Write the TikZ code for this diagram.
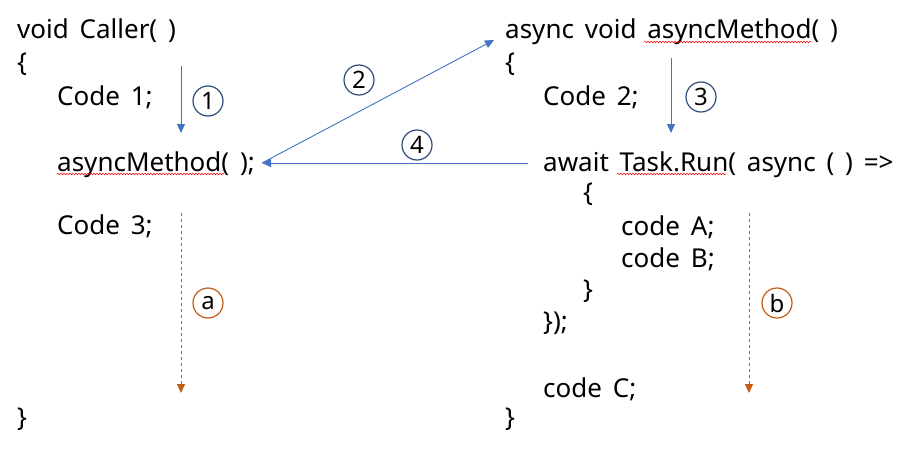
\documentclass[tikz,border=0pt]{standalone}
\usepackage{fontspec}
\setmainfont[WordSpace=1.6]{Noto Sans}
\usetikzlibrary{arrows.meta, positioning, decorations.pathmorphing}

\definecolor{flowblue}{HTML}{4472C4}
\definecolor{stepnavy}{HTML}{2F4B7C}
\definecolor{runorange}{HTML}{C55A11}

\tikzset{
  code/.style={anchor=base west, inner sep=0pt, font=\fontsize{26}{28}\selectfont},
  flow/.style={-{Triangle[length=9pt, width=8pt]}, flowblue, line width=0.9pt},
  run/.style={-{Triangle[length=9pt, width=8pt]}, runorange, dashed, line width=0.9pt},
  stepmark/.style={circle, draw=stepnavy, line width=1.2pt, minimum size=30pt, inner sep=0pt,
    font=\fontsize{24}{26}\selectfont},
  runmark/.style={stepmark, draw=runorange},
  squiggle/.style={red, line width=0.5pt, decorate,
    decoration={snake, amplitude=0.8pt, segment length=3pt}}
}

\begin{document}
\begin{tikzpicture}[x=1pt, y=-1pt]
    \useasboundingbox (0,0) rectangle (899,452);

    % Caller side
    \node[code] (caller) at (17,38) {void Caller( )};
    \node[code] (lopen) at (17,71) {\{};
    \node[code] (code1) at (57,105) {Code 1;};
    \node[code] (call) at (57,171) {asyncMethod( );};
    \node[code] (code3) at (57,234) {Code 3;};
    \node[code] (lclose) at (17,426) {\}};

    % asyncMethod side
    \node[code] (method) at (505,38) {async void asyncMethod( )};
    \node[code] (ropen) at (505,71) {\{};
    \node[code] (code2) at (543,105) {Code 2;};
    \node[code] (await) at (543,171) {await Task.Run( async ( ) =>};
    \node[code] (lamopen) at (583,201) {\{};
    \node[code] (codeA) at (621,235) {code A;};
    \node[code] (codeB) at (621,267) {code B;};
    \node[code] (lamclose) at (583,298) {\}};
    \node[code] (runclose) at (543,330) {\});};
    \node[code] (codeC) at (543,397) {code C;};
    \node[code] (rclose) at (505,426) {\}};

    % spell check underlines
    \draw[squiggle] (57,174) -- (224,174);
    \draw[squiggle] (644,42) -- (812,42);
    \draw[squiggle] (617,174) -- (726,174);

    % flow arrows
    \coordinate (s1) at (181,66);
    \coordinate (e1) at (181,133);
    \draw[flow] (s1) -- (e1);
    \node[stepmark] (n1) at (208,101) {1};

    \coordinate (callpt) at (262,163);
    \coordinate (e2) at (494,40);
    \draw[flow] (callpt) -- (e2);
    \node[stepmark] (n2) at (359,80) {2};

    \coordinate (s3) at (671,58);
    \coordinate (e3) at (671,133);
    \draw[flow] (s3) -- (e3);
    \node[stepmark] (n3) at (701,97) {3};

    \coordinate (s4) at (528,163);
    \draw[flow] (s4) -- (callpt);
    \node[stepmark] (n4) at (417,145) {4};

    % continuations
    \coordinate (sa) at (181,213);
    \coordinate (ea) at (181,393);
    \draw[run] (sa) -- (ea);
    \node[runmark] (na) at (208,303) {a};

    \coordinate (sb) at (749,213);
    \coordinate (eb) at (749,393);
    \draw[run] (sb) -- (eb);
    \node[runmark] (nb) at (777,303) {b};
\end{tikzpicture}
\end{document}
